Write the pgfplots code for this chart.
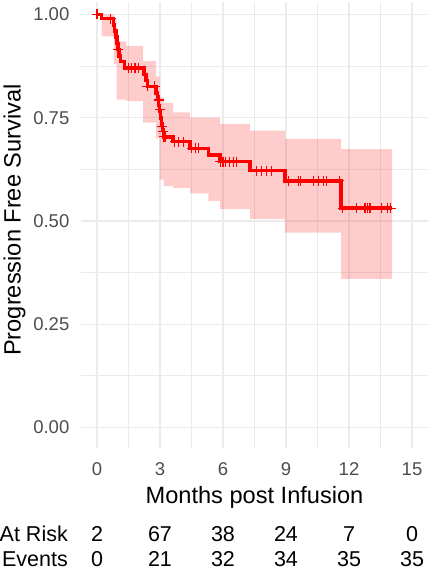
\documentclass[border=0pt]{standalone}
\usepackage{pgfplots}
\pgfplotsset{compat=1.18}
\usepgfplotslibrary{fillbetween}
\usepackage{fontspec}
\setmainfont{Liberation Sans}
\definecolor{gridc}{HTML}{EBEBEB}
\definecolor{tickc}{HTML}{4D4D4D}
\begin{document}
\begin{tikzpicture}
\begin{axis}[
  at={(81.25bp,-2.1bp)}, anchor=north west,
  width=346.5bp, height=446.05bp, scale only axis,
  xmin=-0.75, xmax=15.75, ymin=-0.05, ymax=1.03,
  xtick={0,3,...,15}, ytick={0,0.25,0.5,0.75,1},
  minor x tick num=1, minor y tick num=1,
  grid=both,
  major grid style={gridc, line width=1.5bp},
  minor grid style={gridc, line width=0.9bp},
  axis line style={draw=none},
  major tick length=0pt, minor tick length=0pt,
  /pgf/number format/assume math mode=true,
  tick label style={font=\fontsize{18.5bp}{22bp}\selectfont, text=tickc, inner sep=0pt},
  x tick label style={anchor=base, yshift=-26.85bp},
  y tick label style={anchor=east, xshift=-11.75bp, /pgf/number format/.cd, fixed, fixed zerofill, precision=2},
  xlabel={Months post Infusion}, ylabel={Progression Free Survival},
  label style={font=\fontsize{23.6bp}{28bp}\selectfont, inner sep=0pt},
  xlabel style={at={(axis description cs:0.5,-0.1250)}, anchor=base},
  ylabel style={at={(axis description cs:-0.175,0.5115)}, anchor=base},
  clip=false,
]
% confidence band
\addplot[name path=up, const plot, draw=none, forget plot] coordinates {
(0,1) (0.22,1) (0.80,0.99) (0.94,0.935) (1.40,0.924) (2.20,0.887) (2.82,0.85) (2.98,0.80)
(3.17,0.786) (3.62,0.763) (4.43,0.750) (5.30,0.750) (5.86,0.735) (7.29,0.719) (8.95,0.699)
(11.62,0.674) (14.05,0.674)};
\addplot[name path=lo, const plot, draw=none, forget plot] coordinates {
(0,1) (0.22,0.947) (0.80,0.88) (0.94,0.794) (1.40,0.79) (2.20,0.738) (2.82,0.70) (2.98,0.60)
(3.17,0.585) (3.62,0.58) (4.43,0.567) (5.30,0.549) (5.86,0.529) (7.29,0.505) (8.95,0.472)
(11.62,0.360) (14.05,0.360)};
\addplot[fill=red, fill opacity=0.2, draw=none, forget plot] fill between[of=up and lo];
% KM curve
\addplot[const plot, red, line width=3.6bp] coordinates {
(0,1.0) (0.22,0.99) (0.78,0.975) (0.84,0.96) (0.90,0.945) (0.95,0.93) (1.00,0.915) (1.05,0.90)
(1.12,0.886) (1.30,0.870) (2.25,0.855) (2.33,0.84) (2.40,0.826) (2.82,0.81) (2.88,0.795)
(2.93,0.78) (2.98,0.765) (3.03,0.75) (3.08,0.735) (3.12,0.72) (3.17,0.704) (3.62,0.692)
(4.43,0.676) (5.30,0.660) (5.86,0.644) (7.29,0.622) (8.95,0.597) (11.62,0.531) (14.05,0.531)};
% censor marks
\addplot[only marks, mark=+, red, mark size=5bp, line width=1.1bp] coordinates {
(0,1.0) (0.65,0.99) (1.01,0.915) (1.49,0.87) (1.65,0.87) (1.81,0.87) (1.97,0.87)
(2.40,0.826) (2.75,0.826) (2.97,0.793) (3.02,0.769) (3.08,0.728) (3.12,0.716) (3.17,0.704)
(3.24,0.704) (3.71,0.692) (3.87,0.692) (4.10,0.692) (4.50,0.676) (4.67,0.676) (4.83,0.676)
(5.86,0.644) (6.00,0.644) (6.14,0.644) (6.33,0.644) (6.49,0.644) (6.65,0.644)
(7.60,0.622) (7.84,0.622) (8.08,0.622) (8.32,0.622)
(9.11,0.597) (9.59,0.597) (9.67,0.597) (10.30,0.597) (10.54,0.597) (10.78,0.597) (10.94,0.597) (11.54,0.597)
(11.70,0.531) (12.37,0.531) (12.76,0.531) (12.88,0.531) (13.00,0.531) (13.56,0.531) (13.82,0.531) (13.98,0.531)};
% risk table
\begin{scope}[font=\fontsize{21.5bp}{25bp}\selectfont, inner sep=0pt]
\node[anchor=base east] at (axis cs:-1.381,-0.2765) {At Risk};
\node[anchor=base east] at (axis cs:-1.381,-0.337) {Events};
\node[anchor=base] at (axis cs:0,-0.2765) {2};
\node[anchor=base] at (axis cs:3,-0.2765) {67};
\node[anchor=base] at (axis cs:6,-0.2765) {38};
\node[anchor=base] at (axis cs:9,-0.2765) {24};
\node[anchor=base] at (axis cs:12,-0.2765) {7};
\node[anchor=base] at (axis cs:15,-0.2765) {0};
\node[anchor=base] at (axis cs:0,-0.337) {0};
\node[anchor=base] at (axis cs:3,-0.337) {21};
\node[anchor=base] at (axis cs:6,-0.337) {32};
\node[anchor=base] at (axis cs:9,-0.337) {34};
\node[anchor=base] at (axis cs:12,-0.337) {35};
\node[anchor=base] at (axis cs:15,-0.337) {35};
\end{scope}
\end{axis}
\pgfresetboundingbox
\path[use as bounding box] (0,0) rectangle (443bp,-574bp);
\end{tikzpicture}
\end{document}
